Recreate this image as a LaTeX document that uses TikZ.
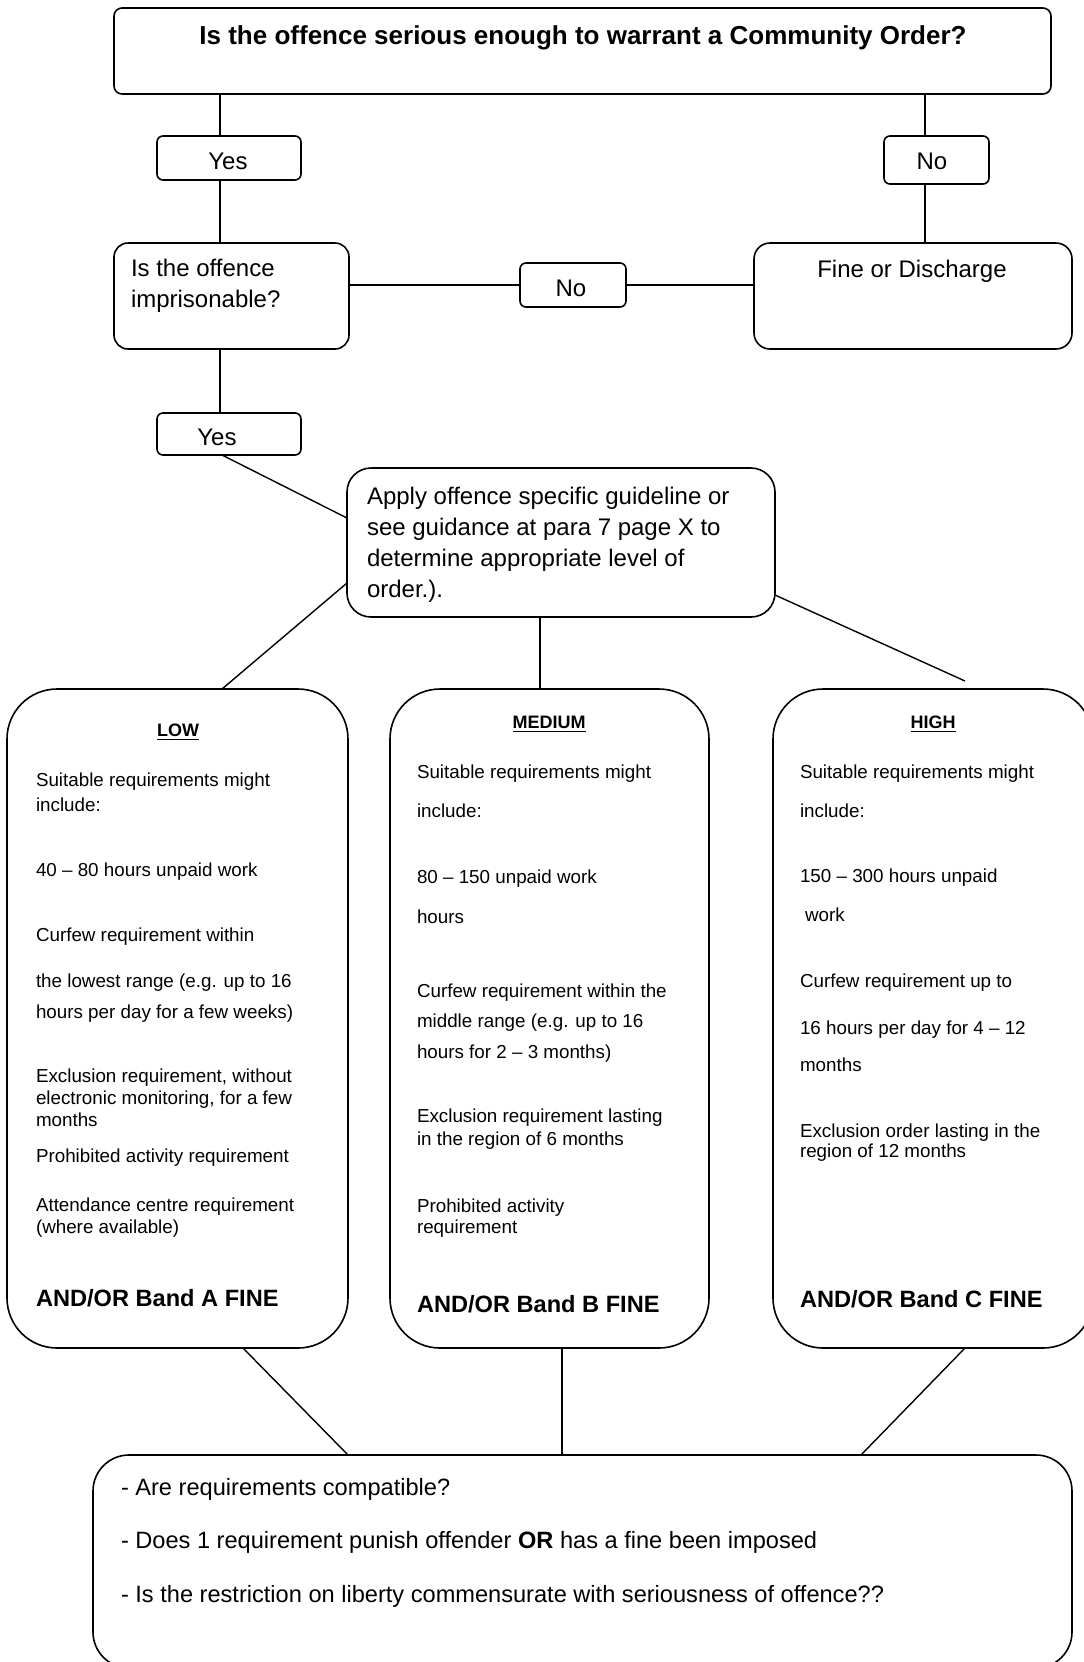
\documentclass[tikz,border=0pt]{standalone}
\usepackage{fontspec}
\setmainfont{Liberation Sans}
\usetikzlibrary{fit}
\begin{document}
\begin{tikzpicture}[x=0.5pt,y=-0.5pt,
  every node/.style={inner sep=0pt, outer sep=0pt},
  box/.style={draw, line width=0.8pt, rounded corners=#1},
  box/.default=4pt,
  conn/.style={line width=0.7pt},
  big/.style={font=\fontsize{12}{14}\selectfont},
  bigl/.style={big, anchor=mid west},
  small/.style={font=\fontsize{9.4}{11}\selectfont, anchor=mid west},
  head/.style={font=\bfseries\fontsize{9}{11}\selectfont},
  bandfine/.style={font=\bfseries\fontsize{11.8}{14}\selectfont, anchor=mid west},
  bottxt/.style={font=\fontsize{11.8}{14}\selectfont, anchor=mid west}]
\useasboundingbox (0,0) rectangle (1083,1662);
\fill[white] (0,0) rectangle (1083,1662);

% boxes
\node[box=4pt, fit={(114,8) (1051,94)}] (top) {};
\node[box=3pt, fit={(157,136) (301,180)}] (yes1) {};
\node[box=3pt, fit={(884,136) (989,184)}] (no1) {};
\node[box=7pt, fit={(114,243) (349,349)}] (imp) {};
\node[box=3pt, fit={(520,263) (626,307)}] (no2) {};
\node[box=8pt, fit={(754,243) (1072,349)}] (fine) {};
\node[box=3pt, fit={(157,413) (301,455)}] (yes2) {};
\node[box=12pt, fit={(347,468) (775,617)}] (apply) {};
\node[box=25pt, fit={(7,689) (348,1348)}] (low) {};
\node[box=25pt, fit={(390,689) (709,1348)}] (med) {};
\node[box=25pt, fit={(773,689) (1093,1348)}] (high) {};
\node[box=18pt, fit={(93,1455) (1072,1668)}] (bot) {};

% helper coordinates
\coordinate (xA) at (220,0);
\coordinate (xB) at (925,0);
\coordinate (xC) at (222,0);
\coordinate (xD) at (540,0);
\coordinate (xE) at (243,0);
\coordinate (xF) at (348,0);
\coordinate (xG) at (562,0);
\coordinate (xH) at (965,0);
\coordinate (xI) at (861,0);
\coordinate (yA) at (0,518);
\coordinate (yB) at (0,583);
\coordinate (yC) at (0,595);
\coordinate (hiend) at (965,681);

% connectors
\draw[conn] (top.south -| xA) -- (yes1.north -| xA);
\draw[conn] (yes1.south -| xA) -- (imp.north -| xA);
\draw[conn] (top.south -| xB) -- (no1.north -| xB);
\draw[conn] (no1.south -| xB) -- (fine.north -| xB);
\draw[conn] (imp.east |- no2.west) -- (no2.west);
\draw[conn] (no2.east) -- (fine.west |- no2.east);
\draw[conn] (imp.south -| xA) -- (yes2.north -| xA);
\draw[conn] (yes2.south -| xC) -- (apply.west |- yA);
\draw[conn] (apply.west |- yB) -- (low.north -| xC);
\draw[conn] (apply.south -| xD) -- (med.north -| xD);
\draw[conn] (apply.east |- yC) -- (hiend);
\draw[conn] (low.south -| xE) -- (bot.north -| xF);
\draw[conn] (med.south -| xG) -- (bot.north -| xG);
\draw[conn] (high.south -| xH) -- (bot.north -| xI);

\begin{scope}[shift={(0,3)}]
% top texts
\node[font=\bfseries\fontsize{13}{15}\selectfont] at (583,35) {Is the offence serious enough to warrant a Community Order?};
\node[big] at (228,158) {Yes};
\node[big] at (932,158) {No};
\node[bigl] at (131,268) {Is the offence};
\node[bigl] at (131,299) {imprisonable?};
\node[big] at (571,285) {No};
\node[big] at (912,268) {Fine or Discharge};
\node[big] at (217,434) {Yes};

% apply
\node[bigl] at (367,496) {Apply offence specific guideline or};
\node[bigl] at (367,527) {see guidance at para 7 page X to};
\node[bigl] at (367,558) {determine appropriate level of};
\node[bigl] at (367,589) {order.).};

% LOW
\node[head] at (178,729) {\underline{LOW}};
\node[small] at (36,778) {Suitable requirements might};
\node[small] at (36,803) {include:};
\node[small] at (36,868) {40 \textendash{} 80 hours unpaid work};
\node[small] at (36,933) {Curfew requirement within};
\node[small] at (36,979) {the lowest range (e.g. up to 16};
\node[small] at (36,1010) {hours per day for a few weeks)};
\node[small] at (36,1074) {Exclusion requirement, without};
\node[small] at (36,1096) {electronic monitoring, for a few};
\node[small] at (36,1118) {months};
\node[small] at (36,1154) {Prohibited activity requirement};
\node[small] at (36,1203) {Attendance centre requirement};
\node[small] at (36,1225) {(where available)};
\node[bandfine] at (36,1298) {AND/OR Band A FINE};

% MEDIUM
\node[head] at (549,721) {\underline{MEDIUM}};
\node[small] at (417,770) {Suitable requirements might};
\node[small] at (417,809) {include:};
\node[small] at (417,875) {80 \textendash{} 150 unpaid work};
\node[small] at (417,915) {hours};
\node[small] at (417,989) {Curfew requirement within the};
\node[small] at (417,1019) {middle range (e.g. up to 16};
\node[small] at (417,1050) {hours for 2 \textendash{} 3 months)};
\node[small] at (417,1114) {Exclusion requirement lasting};
\node[small] at (417,1137) {in the region of 6 months};
\node[small] at (417,1204) {Prohibited activity};
\node[small] at (417,1225) {requirement};
\node[bandfine] at (417,1304) {AND/OR Band B FINE};

% HIGH
\node[head] at (933,721) {\underline{HIGH}};
\node[small] at (800,770) {Suitable requirements might};
\node[small] at (800,809) {include:};
\node[small] at (800,874) {150 \textendash{} 300 hours unpaid};
\node[small] at (805,913) {work};
\node[small] at (800,979) {Curfew requirement up to};
\node[small] at (800,1026) {16 hours per day for 4 \textendash{} 12};
\node[small] at (800,1063) {months};
\node[small] at (800,1129) {Exclusion order lasting in the};
\node[small] at (800,1149) {region of 12 months};
\node[bandfine] at (800,1299) {AND/OR Band C FINE};

% bottom
\node[bottxt] at (121,1487) {- Are requirements compatible?};
\node[bottxt] at (121,1540) {- Does 1 requirement punish offender \textbf{OR} has a fine been imposed};
\node[bottxt] at (121,1594) {- Is the restriction on liberty commensurate with seriousness of offence??};
\end{scope}
\end{tikzpicture}
\end{document}
